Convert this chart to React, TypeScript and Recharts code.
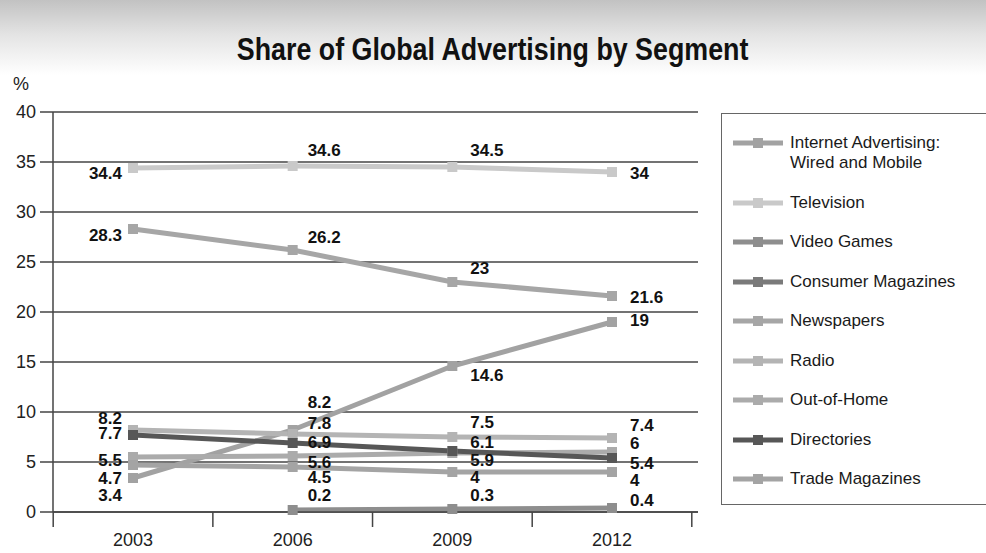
import React from "react";
import { LineChart, Line, XAxis, YAxis, CartesianGrid } from "recharts";

// values (share of global ad spend, %)
const years = ["2003", "2006", "2009", "2012"];
const internetAdvertising = [3.4, 8.2, 14.6, 19];
const television = [34.4, 34.6, 34.5, 34];
const videoGames = [null, 0.2, 0.3, 0.4];
const consumerMagazines = [null, null, null, null];
const newspapers = [28.3, 26.2, 23, 21.6];
const radio = [8.2, 7.8, 7.5, 7.4];
const outOfHome = [5.5, 5.6, 5.9, 6];
const directories = [7.7, 6.9, 6.1, 5.4];
const tradeMagazines = [4.7, 4.5, 4, 4];
const yTicks = [0, 5, 10, 15, 20, 25, 30, 35, 40];

const SANS = "'Liberation Sans', Arial, sans-serif";

// label nudges (vertical offset from the marker, one per year)
const series = [
  { key: "internet", name: "Internet Advertising: Wired and Mobile", color: "#a2a2a2", values: internetAdvertising, dy: [17, -28, 9, -2] },
  { key: "television", name: "Television", color: "#c9c9c9", values: television, dy: [5, -16, -17, 1] },
  { key: "videoGames", name: "Video Games", color: "#8e8e8e", values: videoGames, dy: [0, -15, -14, -8] },
  { key: "consumerMagazines", name: "Consumer Magazines", color: "#7a7a7a", values: consumerMagazines, dy: [0, 0, 0, 0] },
  { key: "newspapers", name: "Newspapers", color: "#a6a6a6", values: newspapers, dy: [6, -13, -14, 1] },
  { key: "radio", name: "Radio", color: "#b4b4b4", values: radio, dy: [-12, -11, -15, -13] },
  { key: "outOfHome", name: "Out-of-Home", color: "#ababab", values: outOfHome, dy: [3, 6, 7, -9] },
  { key: "directories", name: "Directories", color: "#575757", values: directories, dy: [-2, -1, -9, 5] },
  { key: "tradeMagazines", name: "Trade Magazines", color: "#a4a4a4", values: tradeMagazines, dy: [13, 10, 5, 8] },
];

const data = years.map((year, i) => {
  const row: any = { year };
  series.forEach((s) => {
    row[s.key] = s.values[i];
  });
  return row;
});

const HALF_STEP = 79.8;

const YearTick = (props: any) => {
  const { x, y, payload, index } = props;
  return (
    <g>
      <line x1={x - HALF_STEP} y1={y} x2={x - HALF_STEP} y2={y + 15} stroke="#444" strokeWidth={1.5} />
      {index === years.length - 1 && (
        <line x1={x + HALF_STEP} y1={y} x2={x + HALF_STEP} y2={y + 15} stroke="#444" strokeWidth={1.5} />
      )}
      <text x={x} y={y + 34} textAnchor="middle" fontFamily={SANS} fontSize={18} fill="#222">
        {payload.value}
      </text>
    </g>
  );
};

const makeDot = (color: string, dataKey: string) => (props: any) => {
  const { cx, cy, index, payload } = props;
  if (payload == null || payload[dataKey] == null || typeof cy !== "number" || isNaN(cy)) {
    return <g key={`dot-${dataKey}-${index}`} />;
  }
  return <rect key={`dot-${dataKey}-${index}`} x={cx - 5} y={cy - 5} width={10} height={10} fill={color} />;
};

const makeLabel = (s: any) => (props: any) => {
  const { x, y, value, index } = props;
  if (value == null || typeof y !== "number" || isNaN(y)) return <g key={`lbl-${s.key}-${index}`} />;
  const first = index === 0;
  const dx = first ? -11 : index === 1 ? 15 : 18;
  return (
    <text
      key={`lbl-${s.key}-${index}`}
      x={x + dx}
      y={y + s.dy[index]}
      dominantBaseline="central"
      textAnchor={first ? "end" : "start"}
      fontFamily={SANS}
      fontWeight="bold"
      fontSize={17}
      fill="#111"
    >
      {value}
    </text>
  );
};

const LegendBox = () => (
  <div
    style={{
      position: "absolute",
      left: 721,
      top: 113,
      width: 290,
      height: 392,
      border: "1.5px solid #666",
      background: "#fff",
      boxSizing: "border-box",
      paddingTop: 19,
      fontFamily: SANS,
      fontSize: 17,
      color: "#1a1a1a",
    }}
  >
    {series.map((s) => (
      <div key={s.key} style={{ display: "flex", alignItems: "flex-start", marginBottom: 19.5, lineHeight: "20px" }}>
        <svg width={68} height={20} style={{ flex: "none" }}>
          <line x1={11} y1={10} x2={61} y2={10} stroke={s.color} strokeWidth={5} />
          <rect x={31} y={5} width={10} height={10} fill={s.color} />
        </svg>
        <div style={{ width: 180 }}>{s.name}</div>
      </div>
    ))}
  </div>
);

export default function App() {
  return (
    <div
      style={{
        position: "absolute",
        left: 0,
        top: 0,
        width: 986,
        height: 553,
        overflow: "hidden",
        background: "linear-gradient(to bottom, #c2c2c2 0px, #e4e4e4 35px, #ffffff 75px, #ffffff 100%)",
      }}
    >
      <div
        style={{
          position: "absolute",
          left: 0,
          width: 986,
          top: 31,
          textAlign: "center",
          fontFamily: SANS,
          fontWeight: "bold",
          fontSize: 31,
          lineHeight: "38px",
          color: "#111",
          transform: "scaleX(0.865)",
          transformOrigin: "490px 0",
        }}
      >
        Share of Global Advertising by Segment
      </div>
      <div style={{ position: "absolute", left: 13, top: 74, fontFamily: SANS, fontSize: 18, color: "#222" }}>%</div>
      <div style={{ position: "absolute", left: 0, top: 0 }}>
        <LineChart width={986} height={553} data={data} margin={{ top: 112, right: 288, bottom: 11, left: 13 }}>
          <CartesianGrid horizontal vertical={false} stroke="#444" strokeWidth={1.5} />
          <XAxis
            dataKey="year"
            padding={{ left: 80, right: 86 }}
            height={30}
            tickLine={false}
            tickSize={0}
            tickMargin={0}
            axisLine={{ stroke: "#444", strokeWidth: 1.5 }}
            tick={<YearTick />}
            interval={0}
          />
          <YAxis
            width={40}
            domain={[0, 40]}
            ticks={yTicks}
            interval={0}
            tickSize={13}
            tickMargin={4}
            tickLine={{ stroke: "#444", strokeWidth: 1.5 }}
            axisLine={{ stroke: "#444", strokeWidth: 1.5 }}
            tick={{ fontFamily: SANS, fontSize: 18, fill: "#222" }}
          />
          {series.map((s) => (
            <Line
              key={s.key}
              type="linear"
              dataKey={s.key}
              name={s.name}
              stroke={s.color}
              strokeWidth={5}
              dot={makeDot(s.color, s.key)}
              activeDot={false}
              label={makeLabel(s)}
              isAnimationActive={false}
            />
          ))}
        </LineChart>
      </div>
      <LegendBox />
    </div>
  );
}
